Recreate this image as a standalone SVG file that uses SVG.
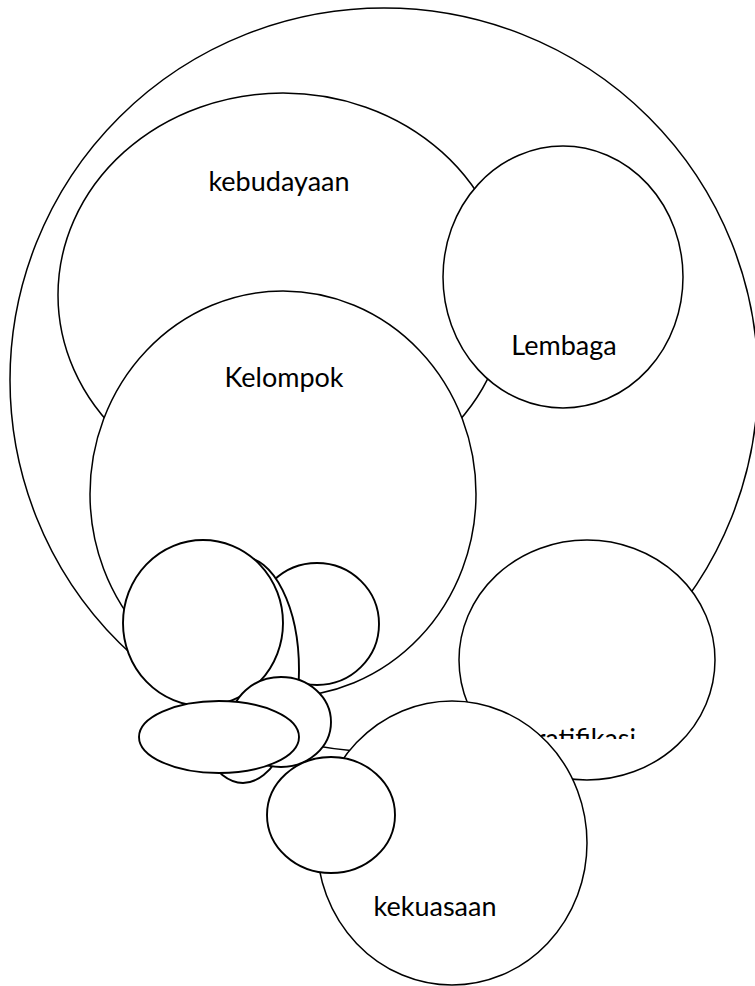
<svg xmlns="http://www.w3.org/2000/svg" width="755" height="986" viewBox="0 0 755 986">
<style>
  .n { fill: #ffffff; stroke: #000000; stroke-width: 1.5; }
  .s { fill: #ffffff; stroke: #000000; stroke-width: 1.9; }
  .t { font-family: Lato, "Liberation Sans", sans-serif; font-size: 27px; fill: #000000; text-anchor: middle; }
</style>
<defs>
  <clipPath id="stratClip"><rect x="450" y="700" width="280" height="39"/></clipPath>
</defs>
<rect x="0" y="0" width="755" height="986" fill="#ffffff"/>
<g id="connectors"></g>
<g id="masyarakat"><ellipse class="n" cx="384" cy="380" rx="374" ry="372"/></g>
<g id="kebudayaan"><ellipse class="n" cx="283" cy="295" rx="225" ry="202"/><text class="t" x="279" y="191">kebudayaan</text></g>
<g id="lembaga"><ellipse class="n" cx="563" cy="277" rx="120" ry="131"/><text class="t" x="564" y="355">Lembaga</text></g>
<g id="kelompok"><ellipse class="n" cx="283" cy="494" rx="193" ry="203"/><text class="t" x="284" y="387">Kelompok</text></g>
<g id="circle-b"><ellipse class="s" cx="317" cy="624" rx="62" ry="61"/></g>
<g id="ellipse-x"><ellipse class="s" cx="243" cy="670" rx="56" ry="113"/></g>
<g id="circle-a"><ellipse class="s" cx="203" cy="623" rx="80" ry="83"/></g>
<g id="circle-c"><ellipse class="s" cx="281" cy="722" rx="50" ry="45"/></g>
<g id="ellipse-long"><ellipse class="s" cx="219" cy="737" rx="80" ry="36"/></g>
<g id="stratifikasi"><ellipse class="n" cx="587" cy="660" rx="128" ry="120"/><text class="t" x="636" y="748" style="text-anchor:end" clip-path="url(#stratClip)">Stratifikasi</text></g>
<g id="kekuasaan"><ellipse class="n" cx="452" cy="843" rx="135" ry="142"/><text class="t" x="435" y="916">kekuasaan</text></g>
<g id="circle-d"><ellipse class="s" cx="331" cy="815" rx="64" ry="58"/></g>
</svg>
